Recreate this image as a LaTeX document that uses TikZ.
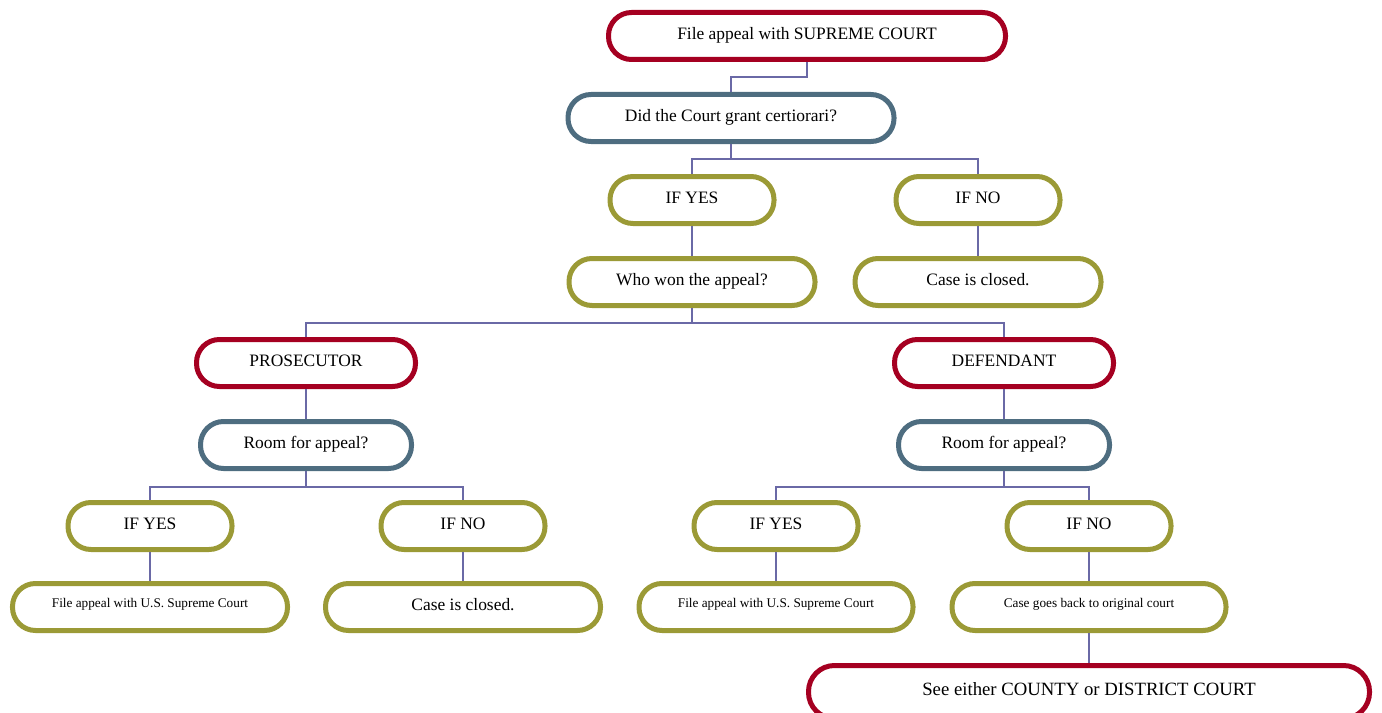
\documentclass[tikz,border=0pt]{standalone}
\usepackage{fontspec}
\setmainfont{Liberation Serif}
\definecolor{cred}{HTML}{A50021}
\definecolor{cblue}{HTML}{4E6D80}
\definecolor{colive}{HTML}{9B9A36}
\definecolor{cline}{HTML}{6A69A6}
\tikzset{
  box/.style={draw, line width=5bp, rounded corners=23bp, fill=white, inner sep=0pt,
    minimum height=47bp, text height=10bp, text depth=3bp, font=\fontsize{17.5}{20}\selectfont},
  redbox/.style={box, draw=cred},
  bluebox/.style={box, draw=cblue},
  olivebox/.style={box, draw=colive},
  smalltext/.style={font=\fontsize{13.3}{15}\selectfont},
  conn/.style={draw=cline, line width=1.5bp},
}
\newcommand{\uptext}[1]{\raisebox{3.5bp}{#1}}
\begin{document}
\begin{tikzpicture}[x=1bp, y=-1bp]
\useasboundingbox (0,0) rectangle (1382,712);
\node[redbox, minimum width=397bp] (top) at (807,36) {File appeal with SUPREME COURT};
\node[bluebox, minimum width=326bp] (did) at (731,118) {Did the Court grant certiorari?};
\node[olivebox, minimum width=164bp] (yes1) at (692,200) {IF YES};
\node[olivebox, minimum width=164bp] (no1) at (978,200) {IF NO};
\node[olivebox, minimum width=246bp] (who) at (692,282) {Who won the appeal?};
\node[olivebox, minimum width=246bp] (closed1) at (978,282) {Case is closed.};
\node[redbox, minimum width=219bp] (pros) at (306,363) {PROSECUTOR};
\node[redbox, minimum width=219bp] (def) at (1004,363) {DEFENDANT};
\node[bluebox, minimum width=211bp] (room1) at (306,445) {Room for appeal?};
\node[bluebox, minimum width=211bp] (room2) at (1004,445) {Room for appeal?};
\node[olivebox, minimum width=164bp] (yesL) at (150,526) {IF YES};
\node[olivebox, minimum width=164bp] (noL) at (463,526) {IF NO};
\node[olivebox, minimum width=164bp] (yesR) at (776,526) {IF YES};
\node[olivebox, minimum width=164bp] (noR) at (1089,526) {IF NO};
\node[olivebox, smalltext, minimum width=275bp] (fileL) at (150,607) {\uptext{File appeal with U.S. Supreme Court}};
\node[olivebox, minimum width=275bp] (closedL) at (463,607) {Case is closed.};
\node[olivebox, smalltext, minimum width=274bp] (fileR) at (776,607) {\uptext{File appeal with U.S. Supreme Court}};
\node[olivebox, smalltext, minimum width=274bp] (back) at (1089,607) {\uptext{Case goes back to original court}};
\node[redbox, font=\fontsize{18.8}{22}\selectfont, minimum width=561bp, minimum height=53bp, rounded corners=26bp] (see) at (1089,692) {See either COUNTY or DISTRICT COURT};
% connectors
\draw[conn] (top.south) -- ++(0,15) -| (did.north);
\draw[conn] (did.south) -- ++(0,15) -| (yes1.north);
\draw[conn] (did.south) -- ++(0,15) -| (no1.north);
\draw[conn] (yes1.south) -- (who.north);
\draw[conn] (no1.south) -- (closed1.north);
\draw[conn] (who.south) -- ++(0,15) -| (pros.north);
\draw[conn] (who.south) -- ++(0,15) -| (def.north);
\draw[conn] (pros.south) -- (room1.north);
\draw[conn] (def.south) -- (room2.north);
\draw[conn] (room1.south) -- ++(0,16) -| (yesL.north);
\draw[conn] (room1.south) -- ++(0,16) -| (noL.north);
\draw[conn] (room2.south) -- ++(0,16) -| (yesR.north);
\draw[conn] (room2.south) -- ++(0,16) -| (noR.north);
\draw[conn] (yesL.south) -- (fileL.north);
\draw[conn] (noL.south) -- (closedL.north);
\draw[conn] (yesR.south) -- (fileR.north);
\draw[conn] (noR.south) -- (back.north);
\draw[conn] (back.south) -- (see.north);
\end{tikzpicture}
\end{document}
